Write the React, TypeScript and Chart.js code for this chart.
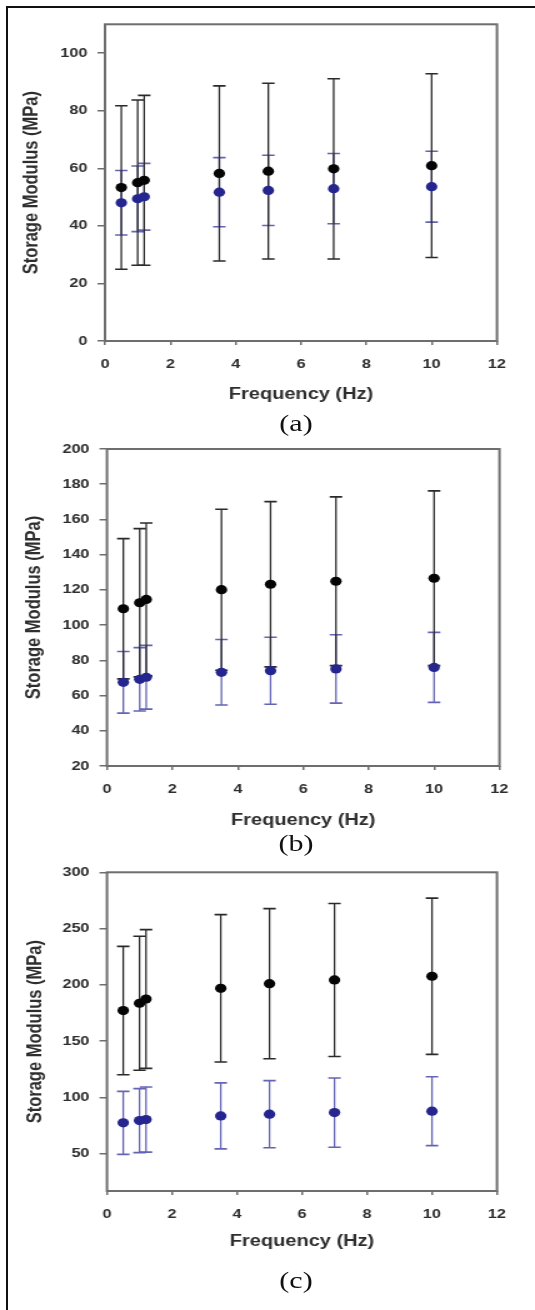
import React, { useEffect, useRef } from "react";
import { Chart, registerables } from "chart.js";

Chart.register(...registerables);

// ---------- data ----------
const frequencyHz = [0.5, 1, 1.2, 3.5, 5, 7, 10];
const xTicks = [0, 2, 4, 6, 8, 10, 12];

const aBlackMean = [53.3, 55.0, 55.8, 58.2, 59.0, 59.8, 60.9];
const aBlackSD = [28.4, 28.7, 29.5, 30.4, 30.5, 31.3, 31.9];
const aBlueMean = [48.0, 49.4, 50.1, 51.7, 52.3, 52.9, 53.6];
const aBlueSD = [11.2, 11.4, 11.6, 12.0, 12.2, 12.2, 12.3];
const aYTicks = [0, 20, 40, 60, 80, 100];

const bBlackMean = [109.3, 112.7, 114.6, 120.1, 123.2, 124.9, 126.6];
const bBlackSD = [39.8, 42.1, 43.4, 45.7, 46.9, 47.9, 49.6];
const bBlueMean = [67.5, 69.2, 70.4, 73.2, 74.1, 75.1, 76.0];
const bBlueSD = [17.5, 18.0, 18.1, 18.6, 19.0, 19.4, 19.9];
const bYTicks = [20, 40, 60, 80, 100, 120, 140, 160, 180, 200];

const cBlackMean = [177.2, 183.7, 187.5, 197.0, 201.1, 204.4, 207.7];
const cBlackSD = [57.0, 59.5, 61.6, 65.4, 66.6, 67.9, 69.4];
const cBlueMean = [77.5, 79.5, 80.4, 83.7, 85.2, 86.6, 87.9];
const cBlueSD = [28.0, 28.4, 28.9, 29.3, 29.8, 30.7, 30.6];
const cYTicks = [50, 100, 150, 200, 250, 300];

const xTitle = "Frequency (Hz)";
const yTitle = "Storage Modulus (MPa)";
const captions = ["(a)", "(b)", "(c)"];

// ---------- style ----------
const STRETCH = 1.25;
const INNER_W = 428;
const FRAME = "#6e6e6e";
const TEXT = "#2e2e2e";
const BLACK_PT = "#050505";
const BLUE_PT = "#25258f";
const BLACK_BAR = "#2a2a2a";
const BLUE_BAR = "#6464b4";
const SANS = "'Liberation Sans', Arial, sans-serif";

type PanelProps = {
  top: number;
  height: number;
  padTop: number;
  padBottom: number;
  padRight: number;
  yWidth: number;
  xHeight: number;
  yTitlePad: number;
  yMin: number;
  yMax: number;
  yTicks: number[];
  blackMean: number[];
  blackSD: number[];
  blueMean: number[];
  blueSD: number[];
};

const errorBarPlugin = {
  id: "errorBarsFrame",
  beforeDatasetsDraw(chart: any) {
    const { ctx, chartArea, scales } = chart;
    const xs = scales.x;
    const ys = scales.y;
    ctx.save();
    ctx.strokeStyle = FRAME;
    ctx.lineWidth = 2;
    ctx.strokeRect(chartArea.left, chartArea.top, chartArea.right - chartArea.left, chartArea.bottom - chartArea.top);
    for (let d = chart.data.datasets.length - 1; d >= 0; d--) {
      const ds: any = chart.data.datasets[d];
      ctx.strokeStyle = ds.errorColor;
      ds.data.forEach((p: any, i: number) => {
        const px = xs.getPixelForValue(p.x);
        const hi = ys.getPixelForValue(p.y + ds.errors[i]);
        const lo = ys.getPixelForValue(p.y - ds.errors[i]);
        ctx.lineWidth = 1.3;
        ctx.beginPath();
        ctx.moveTo(px, hi);
        ctx.lineTo(px, lo);
        ctx.stroke();
        ctx.lineWidth = 1.6;
        ctx.beginPath();
        ctx.moveTo(px - 5, hi);
        ctx.lineTo(px + 5, hi);
        ctx.moveTo(px - 5, lo);
        ctx.lineTo(px + 5, lo);
        ctx.stroke();
      });
    }
    ctx.restore();
  },
};

function Panel(props: PanelProps) {
  const ref = useRef<HTMLCanvasElement | null>(null);
  useEffect(() => {
    if (!ref.current) return;
    const toPts = (m: number[]) => m.map((v, i) => ({ x: frequencyHz[i], y: v }));
    const chart = new Chart(ref.current, {
      type: "scatter",
      data: {
        datasets: [
          {
            label: "black",
            data: toPts(props.blackMean),
            errors: props.blackSD,
            errorColor: BLACK_BAR,
            pointRadius: 4.6,
            pointBackgroundColor: BLACK_PT,
            pointBorderColor: BLACK_PT,
            pointBorderWidth: 0,
            showLine: false,
          } as any,
          {
            label: "blue",
            data: toPts(props.blueMean),
            errors: props.blueSD,
            errorColor: BLUE_BAR,
            pointRadius: 4.6,
            pointBackgroundColor: BLUE_PT,
            pointBorderColor: BLUE_PT,
            pointBorderWidth: 0,
            showLine: false,
          } as any,
        ],
      },
      options: {
        animation: false,
        responsive: false,
        maintainAspectRatio: false,
        layout: { padding: { top: props.padTop, bottom: props.padBottom, left: 0, right: props.padRight } },
        plugins: { legend: { display: false }, tooltip: { enabled: false } },
        scales: {
          x: {
            type: "linear",
            min: 0,
            max: 12,
            afterBuildTicks: (s: any) => {
              s.ticks = xTicks.map((v) => ({ value: v }));
            },
            afterFit: (s: any) => {
              s.height = props.xHeight;
            },
            border: { display: false },
            grid: { drawOnChartArea: false, drawTicks: true, tickLength: 4, color: FRAME, lineWidth: 1.5 },
            ticks: { padding: 12, color: TEXT, maxRotation: 0, autoSkip: false, font: { family: SANS, size: 13, weight: "bold" } },
            title: { display: true, text: xTitle, color: TEXT, padding: 0, font: { family: SANS, size: 16, weight: "bold" } },
          },
          y: {
            type: "linear",
            min: props.yMin,
            max: props.yMax,
            afterBuildTicks: (s: any) => {
              s.ticks = props.yTicks.map((v) => ({ value: v }));
            },
            afterFit: (s: any) => {
              s.width = props.yWidth;
            },
            border: { display: false },
            grid: { drawOnChartArea: false, drawTicks: true, tickLength: 6, color: FRAME, lineWidth: 1.5 },
            ticks: { padding: 8, color: TEXT, autoSkip: false, font: { family: SANS, size: 13, weight: "bold" } },
            title: { display: true, text: yTitle, color: TEXT, padding: props.yTitlePad, font: { family: SANS, size: 16.5, weight: "bold" } },
          },
        },
      } as any,
      plugins: [errorBarPlugin as any],
    });
    return () => chart.destroy();
  }, []);
  return (
    <canvas
      ref={ref}
      width={INNER_W}
      height={props.height}
      style={{ position: "absolute", left: 0, top: props.top, width: INNER_W, height: props.height }}
    />
  );
}

const captionCenters = [423, 843, 1280];
const captionX = 236.8;

export default function App() {
  return (
    <div style={{ position: "absolute", left: 0, top: 0, width: 535, height: 1310, background: "#fff", overflow: "hidden" }}>
      <div
        style={{
          position: "absolute",
          left: 0,
          top: 0,
          width: INNER_W,
          height: 1310,
          transform: `scaleX(${STRETCH})`,
          transformOrigin: "0 0",
        }}
      >
        <Panel top={0} height={425} padTop={24.3} padBottom={20.4} padRight={30.4} yWidth={84} xHeight={63.6} yTitlePad={16}
          yMin={0} yMax={110} yTicks={aYTicks} blackMean={aBlackMean} blackSD={aBlackSD} blueMean={aBlueMean} blueSD={aBlueSD} />
        <Panel top={425} height={430} padTop={24} padBottom={24.4} padRight={28.4} yWidth={85.6} xHeight={64.6} yTitlePad={17.6}
          yMin={20} yMax={200} yTicks={bYTicks} blackMean={bBlackMean} blackSD={bBlackSD} blueMean={bBlueMean} blueSD={bBlueSD} />
        <Panel top={855} height={455} padTop={17.3} padBottom={58.4} padRight={30.4} yWidth={85.6} xHeight={60.6} yTitlePad={18.4}
          yMin={17} yMax={300} yTicks={cYTicks} blackMean={cBlackMean} blackSD={cBlackSD} blueMean={cBlueMean} blueSD={cBlueSD} />
        {captions.map((c, i) => (
          <div
            key={c}
            style={{
              position: "absolute",
              left: captionX - 50,
              width: 100,
              top: captionCenters[i] - 13,
              height: 26,
              lineHeight: "26px",
              textAlign: "center",
              fontFamily: "'Liberation Serif', 'Times New Roman', serif",
              fontSize: 24,
              color: "#111",
            }}
          >
            {c}
          </div>
        ))}
      </div>
      <div style={{ position: "absolute", left: 6, top: 6, width: 2, height: 1304, background: "#111" }} />
      <div style={{ position: "absolute", left: 6, top: 6, width: 529, height: 2, background: "#111" }} />
    </div>
  );
}
